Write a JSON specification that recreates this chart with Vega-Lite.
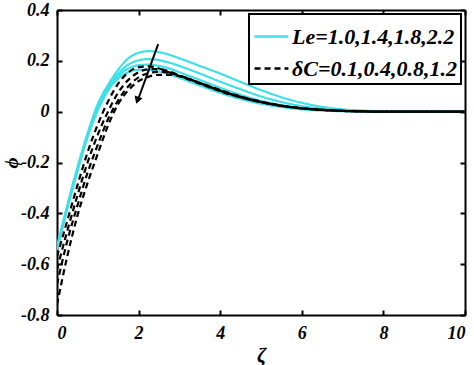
{
  "$schema": "https://vega.github.io/schema/vega-lite/v6.json",
  "width": 408,
  "height": 305,
  "autosize": {"type": "none"},
  "padding": {"left": 57, "top": 10, "right": 9, "bottom": 50},
  "config": {
    "view": {"stroke": null},
    "axis": {
      "labelFont": "Liberation Serif", "labelFontWeight": "bold", "labelFontStyle": "italic",
      "labelFontSize": 18, "labelColor": "black",
      "domainColor": "black", "domainWidth": 2,
      "tickColor": "black", "tickWidth": 2, "tickSize": -5,
      "grid": false,
      "titleFont": "Liberation Serif", "titleFontWeight": "bold", "titleFontStyle": "italic",
      "titleFontSize": 21, "titleColor": "black"
    },
    "legend": {
      "orient": "top-right", "offset": 4,
      "strokeColor": "black", "strokeWidth": 2, "fillColor": "white",
      "padding": 4, "rowPadding": 2,
      "labelFont": "Liberation Serif", "labelFontWeight": "bold", "labelFontStyle": "italic",
      "labelFontSize": 22, "labelColor": "black", "labelOffset": 2, "labelLimit": 400,
      "symbolType": "stroke", "symbolSize": 1150, "symbolStrokeWidth": 2.5
    }
  },
  "resolve": {"axis": {"x": "independent", "y": "independent"}},
  "layer": [
    {
      "data": {"values": [
        {"g":"Le","c":"L1","z":0,"phi":-0.53},{"g":"Le","c":"L1","z":0.25,"phi":-0.37},{"g":"Le","c":"L1","z":0.5,"phi":-0.22},{"g":"Le","c":"L1","z":0.75,"phi":-0.085},{"g":"Le","c":"L1","z":1,"phi":0.03},{"g":"Le","c":"L1","z":1.25,"phi":0.105},{"g":"Le","c":"L1","z":1.5,"phi":0.165},{"g":"Le","c":"L1","z":1.75,"phi":0.21},{"g":"Le","c":"L1","z":2,"phi":0.232},{"g":"Le","c":"L1","z":2.25,"phi":0.238},{"g":"Le","c":"L1","z":2.5,"phi":0.234},{"g":"Le","c":"L1","z":2.75,"phi":0.224},{"g":"Le","c":"L1","z":3,"phi":0.21},{"g":"Le","c":"L1","z":3.5,"phi":0.18},{"g":"Le","c":"L1","z":4,"phi":0.15},{"g":"Le","c":"L1","z":4.5,"phi":0.117},{"g":"Le","c":"L1","z":5,"phi":0.085},{"g":"Le","c":"L1","z":5.5,"phi":0.057},{"g":"Le","c":"L1","z":6,"phi":0.035},{"g":"Le","c":"L1","z":6.5,"phi":0.019},{"g":"Le","c":"L1","z":7,"phi":0.009},{"g":"Le","c":"L1","z":7.5,"phi":0.004},{"g":"Le","c":"L1","z":8,"phi":0.002},{"g":"Le","c":"L1","z":9,"phi":0},{"g":"Le","c":"L1","z":10,"phi":0},
        {"g":"Le","c":"L2","z":0,"phi":-0.535},{"g":"Le","c":"L2","z":0.25,"phi":-0.375},{"g":"Le","c":"L2","z":0.5,"phi":-0.225},{"g":"Le","c":"L2","z":0.75,"phi":-0.09},{"g":"Le","c":"L2","z":1,"phi":0.02},{"g":"Le","c":"L2","z":1.25,"phi":0.097},{"g":"Le","c":"L2","z":1.5,"phi":0.15},{"g":"Le","c":"L2","z":1.75,"phi":0.185},{"g":"Le","c":"L2","z":2,"phi":0.202},{"g":"Le","c":"L2","z":2.25,"phi":0.207},{"g":"Le","c":"L2","z":2.5,"phi":0.203},{"g":"Le","c":"L2","z":2.75,"phi":0.193},{"g":"Le","c":"L2","z":3,"phi":0.18},{"g":"Le","c":"L2","z":3.5,"phi":0.15},{"g":"Le","c":"L2","z":4,"phi":0.118},{"g":"Le","c":"L2","z":4.5,"phi":0.088},{"g":"Le","c":"L2","z":5,"phi":0.06},{"g":"Le","c":"L2","z":5.5,"phi":0.038},{"g":"Le","c":"L2","z":6,"phi":0.022},{"g":"Le","c":"L2","z":6.5,"phi":0.012},{"g":"Le","c":"L2","z":7,"phi":0.006},{"g":"Le","c":"L2","z":7.5,"phi":0.003},{"g":"Le","c":"L2","z":8,"phi":0.001},{"g":"Le","c":"L2","z":9,"phi":0},{"g":"Le","c":"L2","z":10,"phi":0},
        {"g":"Le","c":"L3","z":0,"phi":-0.54},{"g":"Le","c":"L3","z":0.25,"phi":-0.38},{"g":"Le","c":"L3","z":0.5,"phi":-0.23},{"g":"Le","c":"L3","z":0.75,"phi":-0.095},{"g":"Le","c":"L3","z":1,"phi":0.012},{"g":"Le","c":"L3","z":1.25,"phi":0.09},{"g":"Le","c":"L3","z":1.5,"phi":0.14},{"g":"Le","c":"L3","z":1.75,"phi":0.17},{"g":"Le","c":"L3","z":2,"phi":0.183},{"g":"Le","c":"L3","z":2.25,"phi":0.185},{"g":"Le","c":"L3","z":2.5,"phi":0.18},{"g":"Le","c":"L3","z":2.75,"phi":0.17},{"g":"Le","c":"L3","z":3,"phi":0.155},{"g":"Le","c":"L3","z":3.5,"phi":0.125},{"g":"Le","c":"L3","z":4,"phi":0.094},{"g":"Le","c":"L3","z":4.5,"phi":0.066},{"g":"Le","c":"L3","z":5,"phi":0.043},{"g":"Le","c":"L3","z":5.5,"phi":0.026},{"g":"Le","c":"L3","z":6,"phi":0.014},{"g":"Le","c":"L3","z":6.5,"phi":0.007},{"g":"Le","c":"L3","z":7,"phi":0.003},{"g":"Le","c":"L3","z":7.5,"phi":0.001},{"g":"Le","c":"L3","z":8,"phi":0},{"g":"Le","c":"L3","z":9,"phi":0},{"g":"Le","c":"L3","z":10,"phi":0},
        {"g":"Le","c":"L4","z":0,"phi":-0.545},{"g":"Le","c":"L4","z":0.25,"phi":-0.385},{"g":"Le","c":"L4","z":0.5,"phi":-0.235},{"g":"Le","c":"L4","z":0.75,"phi":-0.1},{"g":"Le","c":"L4","z":1,"phi":0.005},{"g":"Le","c":"L4","z":1.25,"phi":0.083},{"g":"Le","c":"L4","z":1.5,"phi":0.13},{"g":"Le","c":"L4","z":1.75,"phi":0.155},{"g":"Le","c":"L4","z":2,"phi":0.165},{"g":"Le","c":"L4","z":2.25,"phi":0.165},{"g":"Le","c":"L4","z":2.5,"phi":0.158},{"g":"Le","c":"L4","z":2.75,"phi":0.147},{"g":"Le","c":"L4","z":3,"phi":0.133},{"g":"Le","c":"L4","z":3.5,"phi":0.103},{"g":"Le","c":"L4","z":4,"phi":0.074},{"g":"Le","c":"L4","z":4.5,"phi":0.05},{"g":"Le","c":"L4","z":5,"phi":0.031},{"g":"Le","c":"L4","z":5.5,"phi":0.018},{"g":"Le","c":"L4","z":6,"phi":0.009},{"g":"Le","c":"L4","z":6.5,"phi":0.004},{"g":"Le","c":"L4","z":7,"phi":0.002},{"g":"Le","c":"L4","z":7.5,"phi":0.001},{"g":"Le","c":"L4","z":8,"phi":0},{"g":"Le","c":"L4","z":9,"phi":0},{"g":"Le","c":"L4","z":10,"phi":0},
        {"g":"dC","c":"D1","z":0,"phi":-0.57},{"g":"dC","c":"D1","z":0.25,"phi":-0.43},{"g":"dC","c":"D1","z":0.5,"phi":-0.29},{"g":"dC","c":"D1","z":0.75,"phi":-0.16},{"g":"dC","c":"D1","z":1,"phi":-0.05},{"g":"dC","c":"D1","z":1.25,"phi":0.04},{"g":"dC","c":"D1","z":1.5,"phi":0.11},{"g":"dC","c":"D1","z":1.75,"phi":0.155},{"g":"dC","c":"D1","z":2,"phi":0.175},{"g":"dC","c":"D1","z":2.25,"phi":0.178},{"g":"dC","c":"D1","z":2.5,"phi":0.17},{"g":"dC","c":"D1","z":2.75,"phi":0.155},{"g":"dC","c":"D1","z":3,"phi":0.14},{"g":"dC","c":"D1","z":3.5,"phi":0.11},{"g":"dC","c":"D1","z":4,"phi":0.08},{"g":"dC","c":"D1","z":4.5,"phi":0.056},{"g":"dC","c":"D1","z":5,"phi":0.037},{"g":"dC","c":"D1","z":5.5,"phi":0.023},{"g":"dC","c":"D1","z":6,"phi":0.013},{"g":"dC","c":"D1","z":6.5,"phi":0.007},{"g":"dC","c":"D1","z":7,"phi":0.003},{"g":"dC","c":"D1","z":7.5,"phi":0.001},{"g":"dC","c":"D1","z":8,"phi":0},{"g":"dC","c":"D1","z":9,"phi":0},{"g":"dC","c":"D1","z":10,"phi":0},
        {"g":"dC","c":"D2","z":0,"phi":-0.62},{"g":"dC","c":"D2","z":0.25,"phi":-0.47},{"g":"dC","c":"D2","z":0.5,"phi":-0.33},{"g":"dC","c":"D2","z":0.75,"phi":-0.2},{"g":"dC","c":"D2","z":1,"phi":-0.09},{"g":"dC","c":"D2","z":1.25,"phi":0},{"g":"dC","c":"D2","z":1.5,"phi":0.075},{"g":"dC","c":"D2","z":1.75,"phi":0.125},{"g":"dC","c":"D2","z":2,"phi":0.155},{"g":"dC","c":"D2","z":2.25,"phi":0.167},{"g":"dC","c":"D2","z":2.5,"phi":0.167},{"g":"dC","c":"D2","z":2.75,"phi":0.158},{"g":"dC","c":"D2","z":3,"phi":0.143},{"g":"dC","c":"D2","z":3.5,"phi":0.112},{"g":"dC","c":"D2","z":4,"phi":0.082},{"g":"dC","c":"D2","z":4.5,"phi":0.057},{"g":"dC","c":"D2","z":5,"phi":0.038},{"g":"dC","c":"D2","z":5.5,"phi":0.023},{"g":"dC","c":"D2","z":6,"phi":0.013},{"g":"dC","c":"D2","z":6.5,"phi":0.007},{"g":"dC","c":"D2","z":7,"phi":0.003},{"g":"dC","c":"D2","z":7.5,"phi":0.001},{"g":"dC","c":"D2","z":8,"phi":0},{"g":"dC","c":"D2","z":9,"phi":0},{"g":"dC","c":"D2","z":10,"phi":0},
        {"g":"dC","c":"D3","z":0,"phi":-0.68},{"g":"dC","c":"D3","z":0.25,"phi":-0.51},{"g":"dC","c":"D3","z":0.5,"phi":-0.37},{"g":"dC","c":"D3","z":0.75,"phi":-0.24},{"g":"dC","c":"D3","z":1,"phi":-0.13},{"g":"dC","c":"D3","z":1.25,"phi":-0.03},{"g":"dC","c":"D3","z":1.5,"phi":0.045},{"g":"dC","c":"D3","z":1.75,"phi":0.1},{"g":"dC","c":"D3","z":2,"phi":0.135},{"g":"dC","c":"D3","z":2.25,"phi":0.152},{"g":"dC","c":"D3","z":2.5,"phi":0.157},{"g":"dC","c":"D3","z":2.75,"phi":0.153},{"g":"dC","c":"D3","z":3,"phi":0.142},{"g":"dC","c":"D3","z":3.5,"phi":0.113},{"g":"dC","c":"D3","z":4,"phi":0.083},{"g":"dC","c":"D3","z":4.5,"phi":0.058},{"g":"dC","c":"D3","z":5,"phi":0.038},{"g":"dC","c":"D3","z":5.5,"phi":0.023},{"g":"dC","c":"D3","z":6,"phi":0.013},{"g":"dC","c":"D3","z":6.5,"phi":0.007},{"g":"dC","c":"D3","z":7,"phi":0.003},{"g":"dC","c":"D3","z":7.5,"phi":0.001},{"g":"dC","c":"D3","z":8,"phi":0},{"g":"dC","c":"D3","z":9,"phi":0},{"g":"dC","c":"D3","z":10,"phi":0},
        {"g":"dC","c":"D4","z":0,"phi":-0.76},{"g":"dC","c":"D4","z":0.25,"phi":-0.57},{"g":"dC","c":"D4","z":0.5,"phi":-0.41},{"g":"dC","c":"D4","z":0.75,"phi":-0.28},{"g":"dC","c":"D4","z":1,"phi":-0.165},{"g":"dC","c":"D4","z":1.25,"phi":-0.055},{"g":"dC","c":"D4","z":1.5,"phi":0.03},{"g":"dC","c":"D4","z":1.75,"phi":0.085},{"g":"dC","c":"D4","z":2,"phi":0.12},{"g":"dC","c":"D4","z":2.25,"phi":0.138},{"g":"dC","c":"D4","z":2.5,"phi":0.145},{"g":"dC","c":"D4","z":2.75,"phi":0.145},{"g":"dC","c":"D4","z":3,"phi":0.14},{"g":"dC","c":"D4","z":3.5,"phi":0.114},{"g":"dC","c":"D4","z":4,"phi":0.085},{"g":"dC","c":"D4","z":4.5,"phi":0.06},{"g":"dC","c":"D4","z":5,"phi":0.04},{"g":"dC","c":"D4","z":5.5,"phi":0.024},{"g":"dC","c":"D4","z":6,"phi":0.014},{"g":"dC","c":"D4","z":6.5,"phi":0.007},{"g":"dC","c":"D4","z":7,"phi":0.003},{"g":"dC","c":"D4","z":7.5,"phi":0.001},{"g":"dC","c":"D4","z":8,"phi":0},{"g":"dC","c":"D4","z":9,"phi":0},{"g":"dC","c":"D4","z":10,"phi":0}
      ]},
      "mark": {"type": "line", "interpolate": "monotone", "strokeWidth": 2.2, "clip": true},
      "encoding": {
        "x": {"field": "z", "type": "quantitative",
              "scale": {"domain": [0, 10], "nice": false, "zero": false},
              "axis": {"values": [0, 2, 4, 6, 8, 10], "title": "ζ", "labelPadding": 14, "titlePadding": 2}},
        "y": {"field": "phi", "type": "quantitative",
              "scale": {"domain": [-0.8, 0.4], "nice": false, "zero": false},
              "axis": {"values": [-0.8, -0.6, -0.4, -0.2, 0, 0.2, 0.4], "title": "ϕ",
                       "labelExpr": "replace(format(datum.value, '.1~f'), '−', '-')",
                       "labelPadding": 13, "titleX": -46, "titleBaseline": "middle", "titleFontSize": 19}},
        "color": {"field": "g", "type": "nominal",
                  "scale": {"domain": ["Le", "dC"], "range": ["#3EE0E8", "#000000"]},
                  "legend": {"title": null, "labelExpr": "datum.label == 'Le' ? 'Le=1.0,1.4,1.8,2.2' : 'δC=0.1,0.4,0.8,1.2'"}},
        "strokeDash": {"field": "g", "type": "nominal",
                  "scale": {"domain": ["Le", "dC"], "range": [[1, 0], [6, 4]]},
                  "legend": {"title": null, "labelExpr": "datum.label == 'Le' ? 'Le=1.0,1.4,1.8,2.2' : 'δC=0.1,0.4,0.8,1.2'"}},
        "detail": {"field": "c", "type": "nominal"}
      }
    },
    {
      "data": {"values": [{"x": 2.48, "y": 0.266, "x2": 1.97, "y2": 0.04}]},
      "mark": {"type": "rule", "color": "black", "strokeWidth": 2},
      "encoding": {
        "x": {"field": "x", "type": "quantitative", "scale": {"domain": [0, 10], "nice": false, "zero": false},
              "axis": {"orient": "top", "values": [0, 2, 4, 6, 8, 10], "labels": false, "title": null}},
        "y": {"field": "y", "type": "quantitative", "scale": {"domain": [-0.8, 0.4], "nice": false, "zero": false},
              "axis": {"orient": "right", "values": [-0.8, -0.6, -0.4, -0.2, 0, 0.2, 0.4], "labels": false, "title": null}},
        "x2": {"field": "x2"},
        "y2": {"field": "y2"}
      }
    },
    {
      "data": {"values": [{"x": 1.97, "y": 0.045}]},
      "mark": {"type": "point", "shape": "triangle-down", "filled": true, "color": "black", "size": 70, "angle": 19, "opacity": 1},
      "encoding": {
        "x": {"field": "x", "type": "quantitative", "scale": {"domain": [0, 10], "nice": false, "zero": false}, "axis": null},
        "y": {"field": "y", "type": "quantitative", "scale": {"domain": [-0.8, 0.4], "nice": false, "zero": false}, "axis": null}
      }
    }
  ]
}
